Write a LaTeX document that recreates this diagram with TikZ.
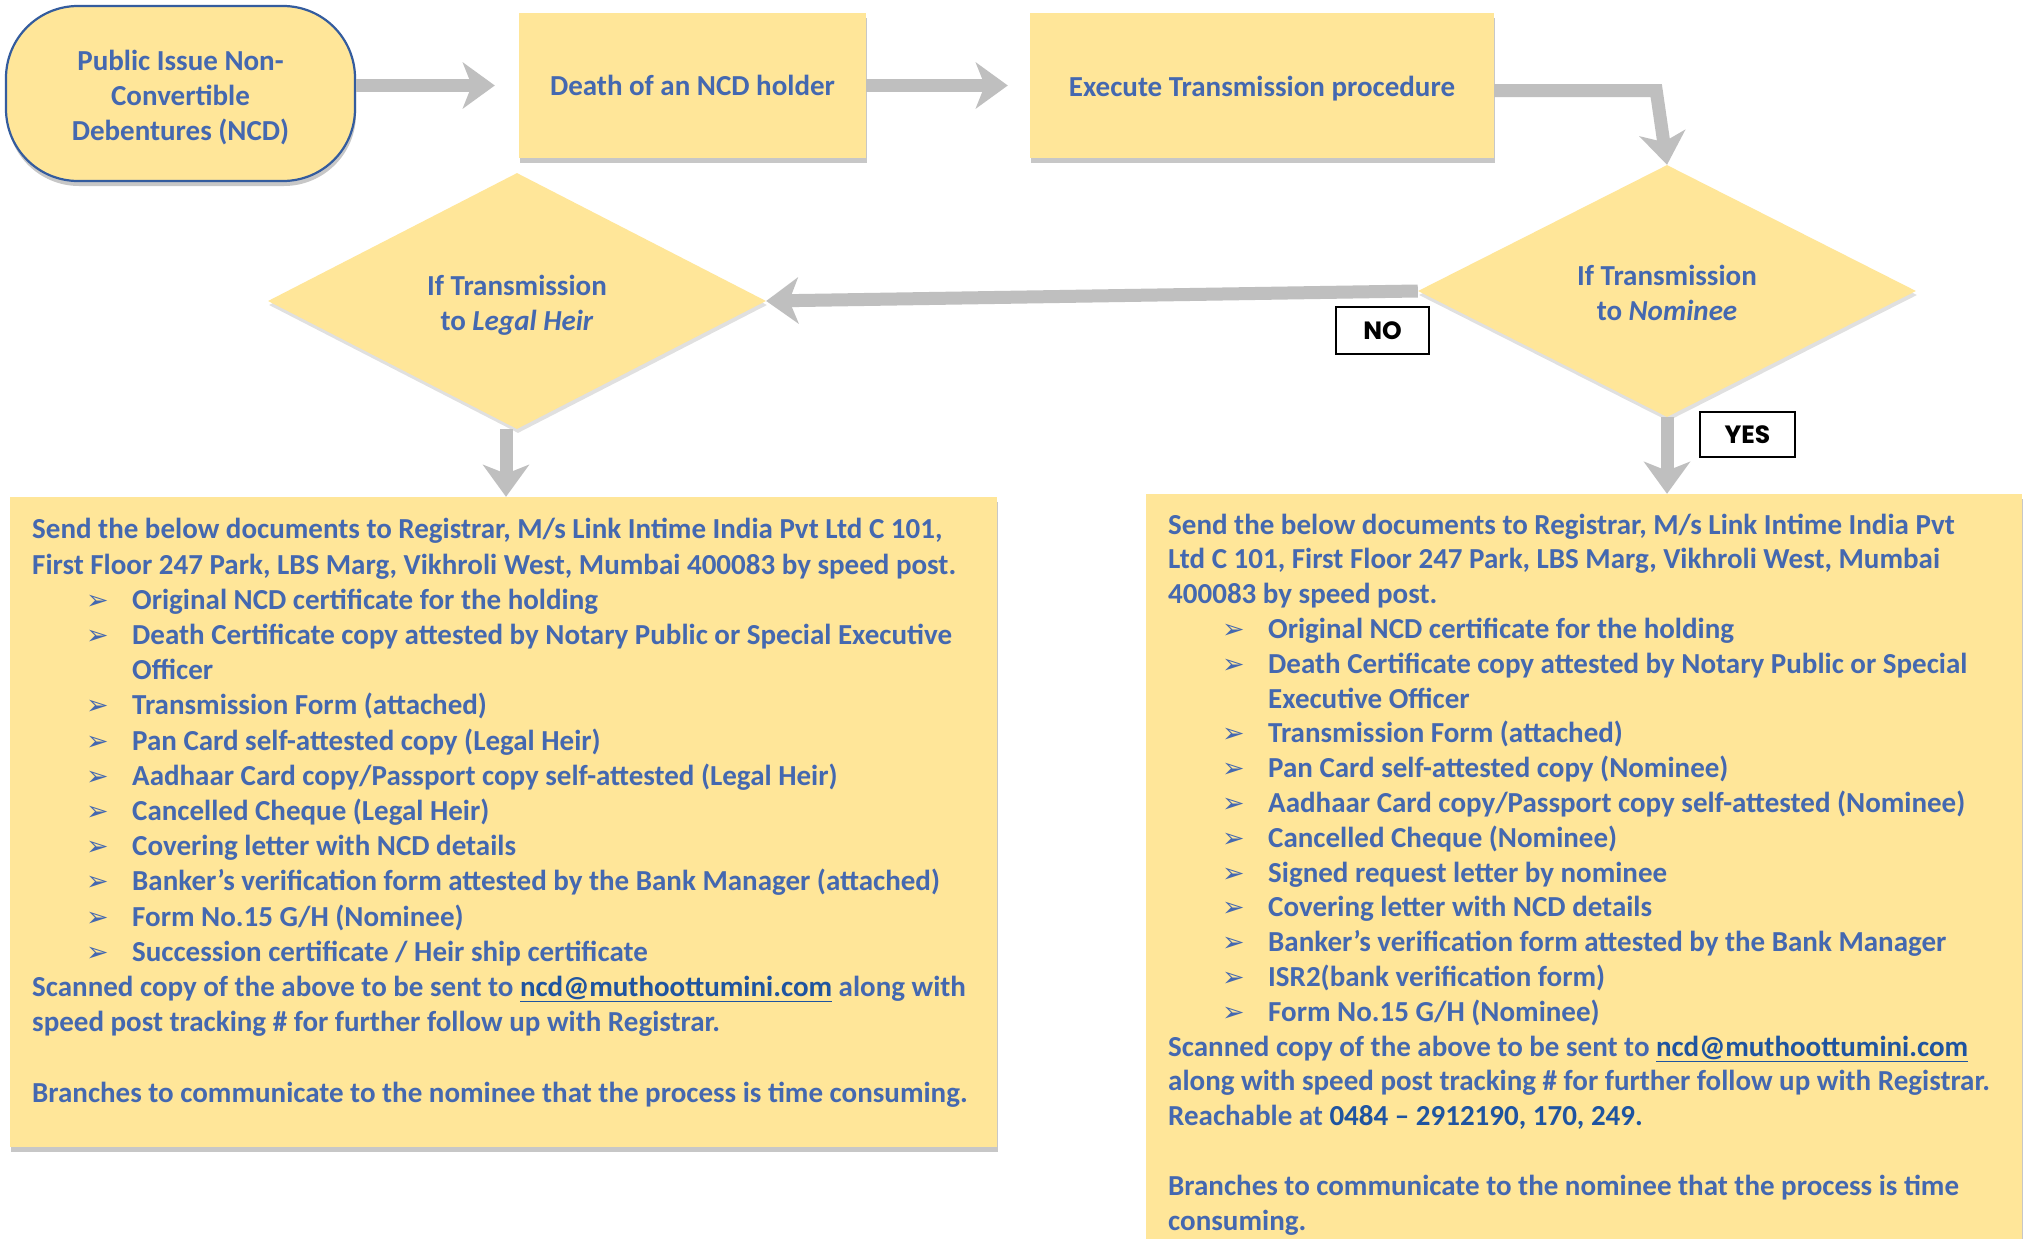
\documentclass[tikz,border=0pt]{standalone}
\usepackage{fontspec}
\setmainfont{Carlito}
\newfontfamily\dejavu{DejaVu Sans}
\newfontfamily\gothic{Poppins}
\usetikzlibrary{shapes.geometric,arrows.meta,shadows}
\definecolor{boxfill}{HTML}{FFE699}
\definecolor{txtblue}{RGB}{68,104,176}
\definecolor{darkblue}{RGB}{31,84,160}
\definecolor{edgeblue}{RGB}{52,92,158}
\definecolor{arrowgray}{RGB}{191,191,191}
\newcommand\bul{\hspace*{54pt}\makebox[46pt][l]{\dejavu\fontsize{27}{27}\selectfont ➢}}
\newcommand\cont{\hspace*{100pt}}
\newcommand\mail{{\color{darkblue}\underline{ncd@muthoottumini.com}}}
\begin{document}
\begin{tikzpicture}[x=1pt,y=-1pt,
  shade/.style={drop shadow={shadow xshift=1pt,shadow yshift=-5pt,fill=black,opacity=0.22}},
  box/.style={shade, fill=boxfill, draw=none, inner sep=0pt, text=txtblue,
    font=\bfseries\fontsize{29}{35}\selectfont, align=center},
  startbox/.style={box, draw=edgeblue, line width=2.2pt},
  decision/.style={diamond, fill=boxfill, draw=none, inner sep=0pt, text=txtblue,
    font=\bfseries\fontsize{29}{35}\selectfont, align=center,
    drop shadow={shadow xshift=1pt,shadow yshift=-4pt,fill=black,opacity=0.12}},
  inner/.style={inner sep=0pt, text=txtblue, font=\bfseries\fontsize{29}{35}\selectfont, align=center},
  bigtext/.style={anchor=base west, inner sep=0pt, text=txtblue, align=left},
  tag/.style={draw=black, line width=1.5pt, fill=white, inner sep=0pt,
    font=\gothic\bfseries\fontsize{25}{25}\selectfont},
  conn/.style={draw=arrowgray, line width=13pt,
    -{Stealth[length=32pt,width=46pt,inset=9pt]}}
]
\useasboundingbox (0,0) rectangle (2026,1239);
\fill[white] (0,0) rectangle (2026,1239);

% top row
\node[startbox, minimum width=349pt, minimum height=175pt, rounded corners=72pt]
  (start) at (180.5,93.5) {};
\node[inner] (starttext) at ([yshift=-4pt]start.center) {Public Issue Non-\\Convertible\\Debentures (NCD)};
\node[box, minimum width=347pt, minimum height=145pt] (death) at (692.5,85.5) {Death of an NCD holder};
\node[box, minimum width=464pt, minimum height=145pt] (exec) at (1262,85.5) {};
\node[inner] (exectext) at ([yshift=-3pt]exec.center) {Execute Transmission procedure};

% decisions
\node[decision, minimum width=498pt, minimum height=256pt] (legal) at (517,301) {};
\node[inner] (legaltext) at ([yshift=-4pt]legal.center) {If Transmission\\to \textit{Legal Heir}};
\node[decision, minimum width=498pt, minimum height=252pt] (nom) at (1667,291) {};
\node[inner] (nomtext) at ([yshift=-2pt]nom.center) {If Transmission\\to \textit{Nominee}};

% big boxes
\node[box, minimum width=987pt, minimum height=650pt] (lbox) at (503.5,822) {};
\node[box, minimum width=876pt, minimum height=760pt] (rbox) at (1584,874) {};

\node[bigtext, font=\bfseries\fontsize{29}{35.2}\selectfont] (ltext) at (32,1102) {%
Send the below documents to Registrar, M/s Link Intime India Pvt Ltd C 101,\\
First Floor 247 Park, LBS Marg, Vikhroli West, Mumbai 400083 by speed post.\\
\bul Original NCD certificate for the holding\\
\bul Death Certificate copy attested by Notary Public or Special Executive\\
\cont Officer\\
\bul Transmission Form (attached)\\
\bul Pan Card self-attested copy (Legal Heir)\\
\bul Aadhaar Card copy/Passport copy self-attested (Legal Heir)\\
\bul Cancelled Cheque (Legal Heir)\\
\bul Covering letter with NCD details\\
\bul Banker’s verification form attested by the Bank Manager (attached)\\
\bul Form No.15 G/H (Nominee)\\
\bul Succession certificate / Heir ship certificate\\
Scanned copy of the above to be sent to \mail{} along with\\
speed post tracking \# for further follow up with Registrar.\\
\mbox{}\\
Branches to communicate to the nominee that the process is time consuming.};

\node[bigtext, font=\bfseries\fontsize{29}{34.8}\selectfont] (rtext) at (1168,1230) {%
Send the below documents to Registrar, M/s Link Intime India Pvt\\
Ltd C 101, First Floor 247 Park, LBS Marg, Vikhroli West, Mumbai\\
400083 by speed post.\\
\bul Original NCD certificate for the holding\\
\bul Death Certificate copy attested by Notary Public or Special\\
\cont Executive Officer\\
\bul Transmission Form (attached)\\
\bul Pan Card self-attested copy (Nominee)\\
\bul Aadhaar Card copy/Passport copy self-attested (Nominee)\\
\bul Cancelled Cheque (Nominee)\\
\bul Signed request letter by nominee\\
\bul Covering letter with NCD details\\
\bul Banker’s verification form attested by the Bank Manager\\
\bul ISR2(bank verification form)\\
\bul Form No.15 G/H (Nominee)\\
Scanned copy of the above to be sent to \mail\\
along with speed post tracking \# for further follow up with Registrar.\\
Reachable at {\color{darkblue}0484 – 2912190, 170, 249.}\\
\mbox{}\\
Branches to communicate to the nominee that the process is time\\
consuming.};

% connectors
\draw[conn, shorten >=24pt] (start.east |- death.west) -- (death.west);
\draw[conn, shorten >=22pt] (death.east) -- (exec.west);
\draw[conn] ([yshift=-5pt]exec.east) -- ++(162,0) -- (nom.north);
\draw[conn] (nom.west) -- (legal.east);
\draw[conn] (nom.south) -- (nom.south |- rbox.north);
\draw[conn] ([xshift=-11pt]legal.south) -- ([xshift=-11pt]legal.south |- lbox.north);

% labels
\node[tag, minimum width=93pt, minimum height=47pt] (no) at (1382.5,330.5) {NO};
\node[tag, minimum width=95pt, minimum height=45pt] (yes) at (1747.5,434.5) {YES};
\end{tikzpicture}
\end{document}
